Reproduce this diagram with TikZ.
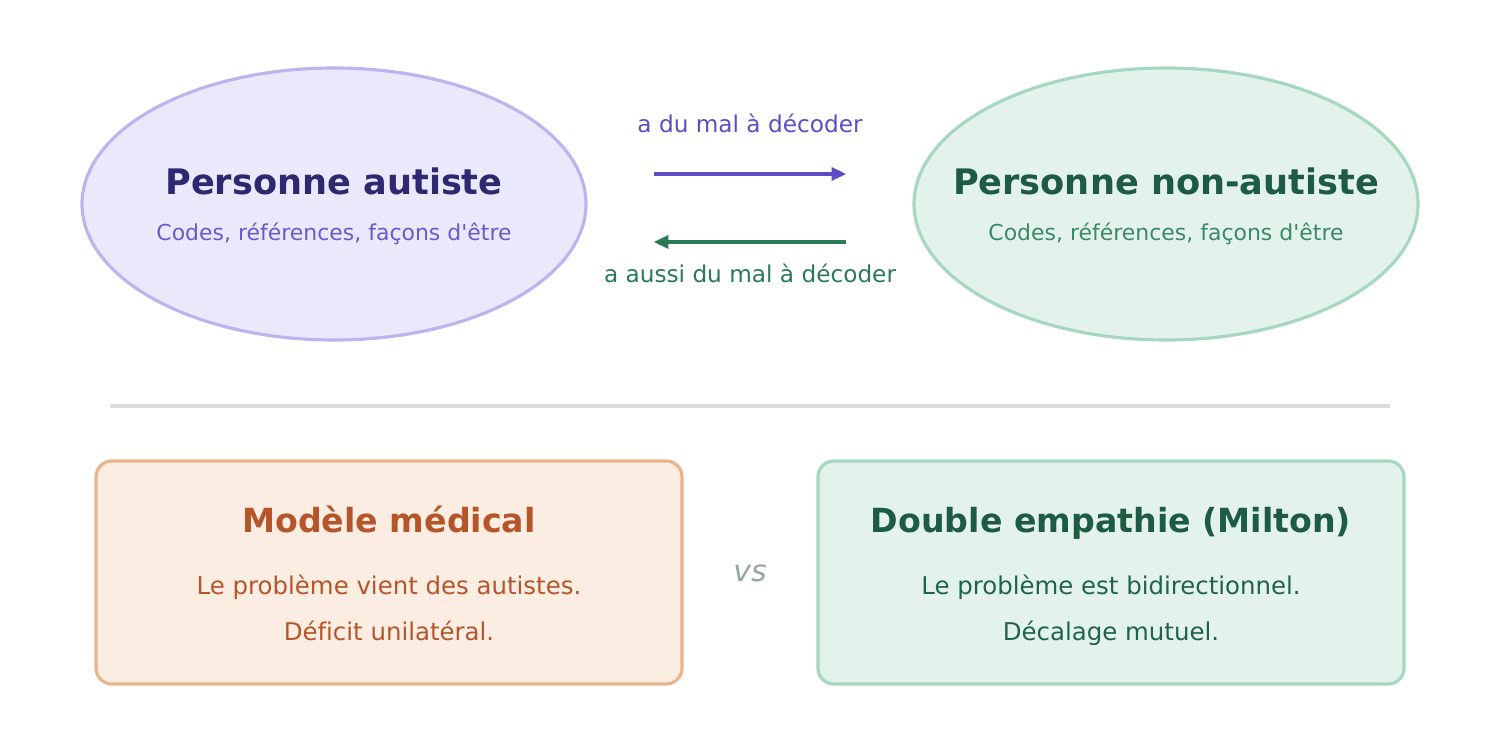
\documentclass[tikz,border=0pt]{standalone}
\usepackage{fontspec}
\setmainfont{DejaVu Sans}[Ligatures={NoCommon}]
\usepackage{tikz}
\usetikzlibrary{arrows.meta,shapes}
\definecolor{violetfond}{HTML}{EAE8FB}
\definecolor{violetbord}{HTML}{BCB4EE}
\definecolor{violetfonce}{HTML}{2D2870}
\definecolor{violettexte}{HTML}{6A5BCD}
\definecolor{violetfleche}{HTML}{5B4DC4}
\definecolor{vertfond}{HTML}{E3F3EB}
\definecolor{vertbord}{HTML}{A6D7BF}
\definecolor{vertfonce}{HTML}{1D5C42}
\definecolor{verttexte}{HTML}{3A8A68}
\definecolor{vertfleche}{HTML}{2A7A58}
\definecolor{orangefond}{HTML}{FCEDE3}
\definecolor{orangebord}{HTML}{E9B38C}
\definecolor{orangefonce}{HTML}{B5552A}
\definecolor{grisligne}{HTML}{DDDDDD}
\definecolor{grisvs}{HTML}{95A5A6}
\newcommand{\traits}{0.9pt}
\newcommand{\fleches}{1.15pt}

\begin{document}
\begin{tikzpicture}[x=0.1mm,y=-0.1mm]
            \tikzset{bulle/.style = {ellipse, line width = \traits, minimum width = 50.4mm, minimum height = 27.2mm, inner sep = 0pt}}
            \tikzset{cadre/.style = {rectangle, rounded corners = 4.5pt, line width = \traits, minimum width = 58.6mm, minimum height = 22.3mm, inner sep = 0pt}}
            \tikzset{titre/.style = {anchor = base, inner sep = 0pt, font = \fontsize{10pt}{11pt}\selectfont\bfseries}}
            \tikzset{titrecadre/.style = {titre, font = \fontsize{9.45pt}{11pt}\selectfont\bfseries}}
            \tikzset{soustitre/.style = {anchor = base, inner sep = 0pt, font = \fontsize{6.25pt}{7.5pt}\selectfont}}
            \tikzset{etiquette/.style = {anchor = base, inner sep = 0pt, font = \fontsize{6.6pt}{8pt}\selectfont}}
            \tikzset{ligne/.style = {anchor = base, inner sep = 0pt, font = \fontsize{6.95pt}{8pt}\selectfont}}
            \tikzset{fleche/.style = {line width = \fleches, -{Triangle[length=4.2pt,width=3.6pt]}, shorten <= 6.6mm, shorten >= 6.6mm}}
            \useasboundingbox (0,0) rectangle (1500,736);

            \node[bulle, fill = violetfond, draw = violetbord] (aut) at (334,204) {};
            \node[bulle, fill = vertfond, draw = vertbord] (nonaut) at (1166,204) {};
            \node[titre, text = violetfonce] (autT) at (334,195) {Personne autiste};
            \node[soustitre, text = violettexte] (autS) at (334,241) {Codes, références, façons d\textquotesingle être};
            \node[titre, text = vertfonce] (nonautT) at (1166,195) {Personne non-autiste};
            \node[soustitre, text = verttexte] (nonautS) at (1166,241) {Codes, références, façons d\textquotesingle être};

            \draw[fleche, violetfleche] (aut.east |- 0,174) -- (nonaut.west |- 0,174);
            \draw[fleche, vertfleche] (nonaut.west |- 0,242) -- (aut.east |- 0,242);
            \node[etiquette, text = violetfleche] (lab1) at (750,133) {a du mal à décoder};
            \node[etiquette, text = vertfleche] (lab2) at (750,283) {a aussi du mal à décoder};

            \coordinate (sepG) at (110,406);
            \coordinate (sepD) at (1390,406);
            \draw[grisligne, line width = 0.9pt] (sepG) -- (sepD);

            \node[cadre, fill = orangefond, draw = orangebord] (med) at (389,572.5) {};
            \node[cadre, fill = vertfond, draw = vertbord] (milton) at (1111,572.5) {};
            \node[titrecadre, text = orangefonce] (medT) at (389,532) {Modèle médical};
            \node[ligne, text = orangefonce] (medA) at (389,594) {Le problème vient des autistes.};
            \node[ligne, text = orangefonce] (medB) at (389,640) {Déficit unilatéral.};
            \node[titrecadre, text = vertfonce] (miltonT) at (1111,532) {Double empathie (Milton)};
            \node[ligne, text = vertfonce!85!verttexte] (miltonA) at (1111,594) {Le problème est bidirectionnel.};
            \node[ligne, text = vertfonce!85!verttexte] (miltonB) at (1111,640) {Décalage mutuel.};
            \node[anchor = base, inner sep = 0pt, text = grisvs, font = \fontsize{8.5pt}{10pt}\selectfont\itshape] (vs) at (750,581) {vs};
\end{tikzpicture}
\end{document}
